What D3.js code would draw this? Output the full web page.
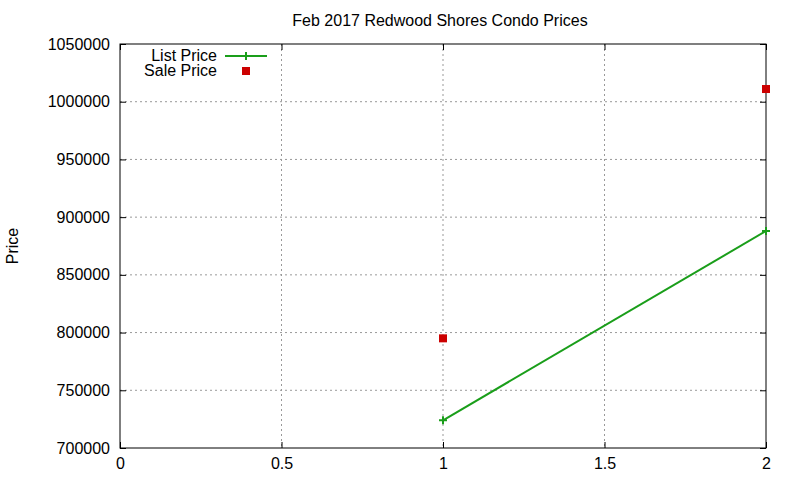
<!DOCTYPE html>
<html><head><meta charset="utf-8">
<script src="https://cdn.jsdelivr.net/npm/d3@7"></script>
<style>body{margin:0;background:#fff}text{font-family:"Liberation Sans",Arial,sans-serif;font-size:16px}</style>
</head><body><svg id="c" width="800" height="480"></svg>
<script>
// data
const listX = [1, 2];
const listPrice = [724000, 888000];
const saleX = [1, 2];
const salePrice = [795000, 1011000];
const xTicks = [0, 0.5, 1, 1.5, 2];
const yTicks = d3.range(700000, 1050001, 50000);

const svg = d3.select("#c");
const L = 120, R = 766, T = 44, B = 448;
const x = d3.scaleLinear().domain([0, 2]).range([L, R]);
const y = d3.scaleLinear().domain([700000, 1050000]).range([B, T]);

// grid
svg.append("g").selectAll("line").data(xTicks.slice(1, -1)).join("line")
    .attr("x1", d => x(d)).attr("x2", d => x(d)).attr("y1", T).attr("y2", B)
    .attr("stroke", "#999").attr("stroke-dasharray", "2,3");
svg.append("g").selectAll("line").data(yTicks.slice(1, -1)).join("line")
    .attr("x1", L).attr("x2", R).attr("y1", d => y(d)).attr("y2", d => y(d))
    .attr("stroke", "#999").attr("stroke-dasharray", "2,3");

// axes
svg.append("g").attr("transform", `translate(0,${B})`)
    .call(d3.axisBottom(x).tickValues(xTicks).tickSize(-6).tickPadding(10).tickFormat(d3.format("")))
    .call(g => g.select(".domain").remove());
svg.append("g").attr("transform", `translate(${L},0)`)
    .call(d3.axisLeft(y).tickValues(yTicks).tickSize(-6).tickPadding(10).tickFormat(d3.format("d")))
    .call(g => g.select(".domain").remove());
svg.selectAll(".tick text").attr("font-size", 16).attr("fill", "#000")
    .attr("font-family", "Liberation Sans, Arial, sans-serif");
svg.append("g").attr("transform", `translate(${R},0)`)
    .call(d3.axisRight(y).tickValues(yTicks).tickSize(-6).tickFormat(""))
    .call(g => g.select(".domain").remove());
svg.append("g").attr("transform", `translate(0,${T})`)
    .call(d3.axisTop(x).tickValues(xTicks).tickSize(-6).tickFormat(""))
    .call(g => g.select(".domain").remove());
svg.append("rect").attr("x", L).attr("y", T).attr("width", R - L).attr("height", B - T)
    .attr("fill", "none").attr("stroke", "#000");

// series
const green = "#1a9e1a", red = "#cc0000";
svg.append("path").datum(listX.map((d, i) => [d, listPrice[i]]))
    .attr("d", d3.line().x(d => x(d[0])).y(d => y(d[1])))
    .attr("fill", "none").attr("stroke", green).attr("stroke-width", 2);
const plus = (g, cx, cy) => g.append("path")
    .attr("d", `M${cx-4},${cy}H${cx+4}M${cx},${cy-4}V${cy+4}`)
    .attr("stroke", green).attr("stroke-width", 2);
listX.forEach((d, i) => plus(svg, x(d), y(listPrice[i])));
svg.selectAll(".sale").data(saleX).join("rect").attr("class", "sale")
    .attr("x", (d, i) => x(d) - 4).attr("y", (d, i) => y(salePrice[i]) - 4)
    .attr("width", 8).attr("height", 8).attr("fill", red);

// legend
svg.append("text").attr("x", 217).attr("y", 61).attr("text-anchor", "end").text("List Price");
svg.append("line").attr("x1", 225).attr("x2", 267).attr("y1", 56).attr("y2", 56)
    .attr("stroke", green).attr("stroke-width", 2);
plus(svg, 246, 56);
svg.append("text").attr("x", 217).attr("y", 76).attr("text-anchor", "end").text("Sale Price");
svg.append("rect").attr("x", 242).attr("y", 67).attr("width", 8).attr("height", 8).attr("fill", red);

// titles
svg.append("text").attr("x", 440).attr("y", 26).attr("text-anchor", "middle")
    .text("Feb 2017 Redwood Shores Condo Prices");
svg.append("text").attr("transform", "translate(18,246) rotate(-90)")
    .attr("text-anchor", "middle").text("Price");
</script></body></html>
